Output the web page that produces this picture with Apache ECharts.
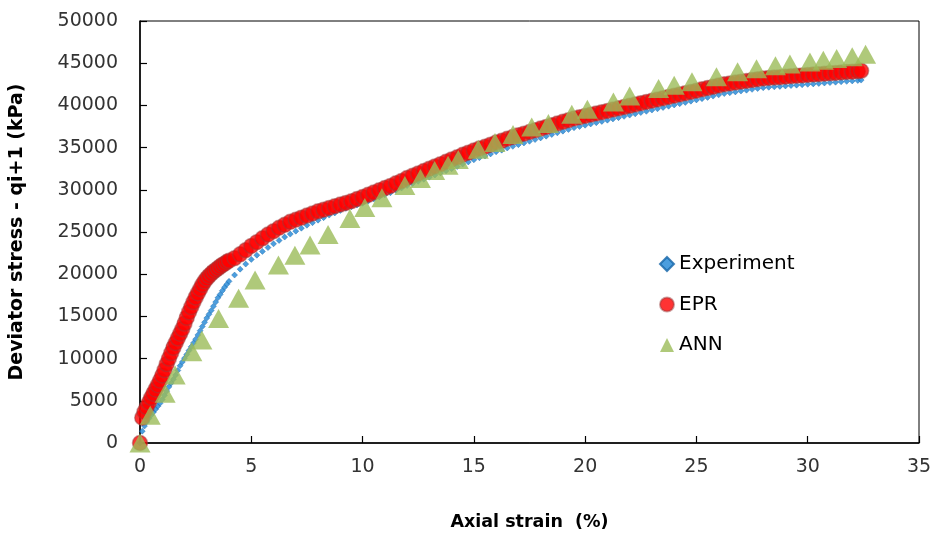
<!DOCTYPE html>
<html>
<head>
<meta charset="utf-8">
<script src="https://cdn.jsdelivr.net/npm/echarts@6/dist/echarts.min.js"></script>
<style>html,body{margin:0;padding:0;background:#fff}#c{width:938px;height:538px}</style>
</head>
<body>
<div id="c"></div>
<script>
// Strain (%) for Experiment & EPR
const strain = [
0,0.1,0.2,0.3,0.4,0.5,0.6,0.7,0.8,0.9,1.0,1.1,1.2,1.3,1.4,1.5,1.6,1.7,1.8,1.9,2.0,
2.1,2.2,2.3,2.4,2.5,2.6,2.7,2.8,2.9,3.0,3.1,3.2,3.3,3.4,3.5,3.6,3.7,3.8,3.9,4.0,
4.25,4.5,4.75,5.0,5.25,5.5,5.75,6.0,6.25,6.5,6.75,7.0,7.25,7.5,7.75,8.0,
8.25,8.5,8.75,9.0,9.25,9.5,9.75,10.0,10.25,10.5,10.75,11.0,11.25,11.5,11.75,12.0,
12.25,12.5,12.75,13.0,13.25,13.5,13.75,14.0,14.25,14.5,14.75,15.0,15.25,15.5,15.75,16.0,
16.25,16.5,16.75,17.0,17.25,17.5,17.75,18.0,18.25,18.5,18.75,19.0,19.25,19.5,19.75,20.0,
20.25,20.5,20.75,21.0,21.25,21.5,21.75,22.0,22.25,22.5,22.75,23.0,23.25,23.5,23.75,24.0,
24.25,24.5,24.75,25.0,25.25,25.5,25.75,26.0,26.25,26.5,26.75,27.0,27.25,27.5,27.75,28.0,
28.25,28.5,28.75,29.0,29.25,29.5,29.75,30.0,30.25,30.5,30.75,31.0,31.25,31.5,31.75,32.0,
32.25,32.4
];
const experiment = [
0,1400,2000,2500,2900,3300,3650,4000,4350,4700,5150,5650,6150,6650,7100,7550,8050,8600,9150,9600,10050,
10500,10950,11400,11850,12300,12800,13300,13800,14300,14800,15250,15700,16200,16700,17200,17600,18050,18450,18800,19150,
19900,20600,21200,21750, 22250,22700,23150,23600, 24000,24400,24750,25100, 25450,25800,26100,26400,
26700,27000,27250,27550, 27800,28000,28200,28400, 28650,28900,29150,29400, 29650,29950,30200,30500,
30750,31000,31250,31500, 31750,32000,32250,32500, 32750,33050,33300,33550, 33800,34000,34250,34500,
34700,34950,35150,35350, 35550,35750,35950,36150, 36350,36550,36750,36950, 37150,37350,37500,37650,
37800,37950,38100,38250, 38400,38550,38700,38850, 39000,39150,39300,39450, 39600,39750,39900,40050,
40200,40350,40500,40650, 40800,40950,41100,41250, 41400,41500,41600,41700, 41800,41900,42000,42100,
42150,42200,42250,42300, 42350,42400,42450,42500, 42550,42600,42650,42700, 42750,42800,42850,42900,
42950,43000
];
const epr = [
0,3000,3700,4250,4800,5350,5850,6350,6850,7400,8000,8650,9350,10000,10650,11300,11850,12400,12950,13500,14150,
14850,15500,16100,16700,17250,17750,18250,18750,19150,19500,19800,20050,20300,20500,20700,20900,21100,21250,21450,21600,
21900,22350,22850,23350, 23800,24250,24700,25100, 25500,25850,26200,26450, 26700,26950,27200,27450,
27650,27850,28050,28250, 28450,28650,28900,29150, 29400,29680,29940,30200, 30460,30780,31050,31400,
31670,31940,32220,32500, 32770,33040,33310,33600, 33850,34150,34400,34650, 34900,35100,35350,35600,
35800,36050,36250,36450, 36650,36850,37050,37250, 37450,37650,37850,38050, 38250,38450,38600,38750,
38900,39050,39200,39350, 39500,39650,39800,39950, 40100,40250,40400,40550, 40700,40850,41000,41150,
41300,41450,41600,41750, 41900,42050,42200,42350, 42500,42600,42700,42800, 42900,43000,43100,43200,
43250,43300,43350,43400, 43450,43500,43550,43600, 43650,43700,43750,43800, 43850,43900,43950,44000,
44050,44100
];
// ANN predictions
const annStrain = [0,0.46,1.13,1.58,2.33,2.78,3.53,4.43,5.17,6.22,6.96,7.64,8.45,9.43,10.1,10.87,11.9,12.6,13.24,13.84,
14.3,15.2,15.95,16.76,17.6,18.35,19.4,20.1,21.27,22.0,23.3,24.0,24.8,25.9,26.85,27.7,28.55,29.2,30.1,30.7,31.3,32.0,32.6];
const ann = [0,3300,5900,8050,10800,12200,14750,17150,19300,21100,22250,23450,24700,26600,27900,29050,30500,31350,32300,32900,
33600,34800,35600,36550,37450,37850,38950,39550,40400,41100,42000,42400,42800,43400,44000,44350,44700,44900,45150,45350,45550,45750,46050];

const seriesNames = ['Experiment','EPR','ANN'];
const xTitle = 'Axial strain  (%)';
const yTitle = 'Deviator stress - qi+1 (kPa)';

const zip = (xs, ys) => xs.map((x, i) => [x, ys[i]]);
const FONT = 'DejaVu Sans';

const chart = echarts.init(document.getElementById('c'), null, {renderer: 'canvas'});
chart.setOption({
  animation: false,
  backgroundColor: '#ffffff',
  grid: {left: 137, right: 19, top: 21, bottom: 95, show: true, borderColor: '#000', borderWidth: 1, backgroundColor: 'transparent'},
  legend: {
    orient: 'vertical', left: 654, top: 249, itemWidth: 14, itemHeight: 14, itemGap: 20.5,
    data: seriesNames,
    textStyle: {fontFamily: FONT, fontSize: 20, color: '#000'}
  },
  xAxis: {
    type: 'value', min: 0, max: 35, interval: 5,
    name: xTitle, nameLocation: 'middle', nameGap: 70,
    nameTextStyle: {fontFamily: FONT, fontSize: 17.5, fontWeight: 'bold', color: '#000'},
    axisLine: {show: true, onZero: false, lineStyle: {color: '#000', width: 1.5}},
    axisTick: {show: true, inside: true, length: 7, lineStyle: {color: '#000', width: 1.2}},
    axisLabel: {fontFamily: FONT, fontSize: 19, color: '#333', margin: 15, formatter: v => String(v)},
    splitLine: {show: false}
  },
  yAxis: {
    type: 'value', min: 0, max: 50000, interval: 5000,
    name: yTitle, nameLocation: 'middle', nameGap: 113,
    nameTextStyle: {fontFamily: FONT, fontSize: 19, fontWeight: 'bold', color: '#000'},
    axisLine: {show: true, onZero: false, lineStyle: {color: '#000', width: 1.5}},
    axisTick: {show: true, inside: true, length: 7, lineStyle: {color: '#000', width: 1.2}},
    axisLabel: {fontFamily: FONT, fontSize: 19, color: '#333', margin: 22, formatter: v => String(v)},
    splitLine: {show: false}
  },
  series: [
    {
      name: seriesNames[0], type: 'scatter', symbol: 'diamond', symbolSize: 6,
      itemStyle: {color: '#1f86d6', borderColor: '#1565a8', borderWidth: 0.5},
      data: zip(strain, experiment), z: 2
    },
    {
      name: seriesNames[1], type: 'scatter', symbol: 'circle', symbolSize: 15,
      itemStyle: {color: '#ff0000', borderColor: 'rgba(150,60,60,0.6)', borderWidth: 1.5},
      data: zip(strain, epr), z: 3
    },
    {
      name: seriesNames[2], type: 'scatter', symbol: 'triangle', symbolSize: [21, 19],
      itemStyle: {color: '#9bbb59'},
      data: zip(annStrain, ann), z: 4
    }
  ]
});
</script>
</body>
</html>
